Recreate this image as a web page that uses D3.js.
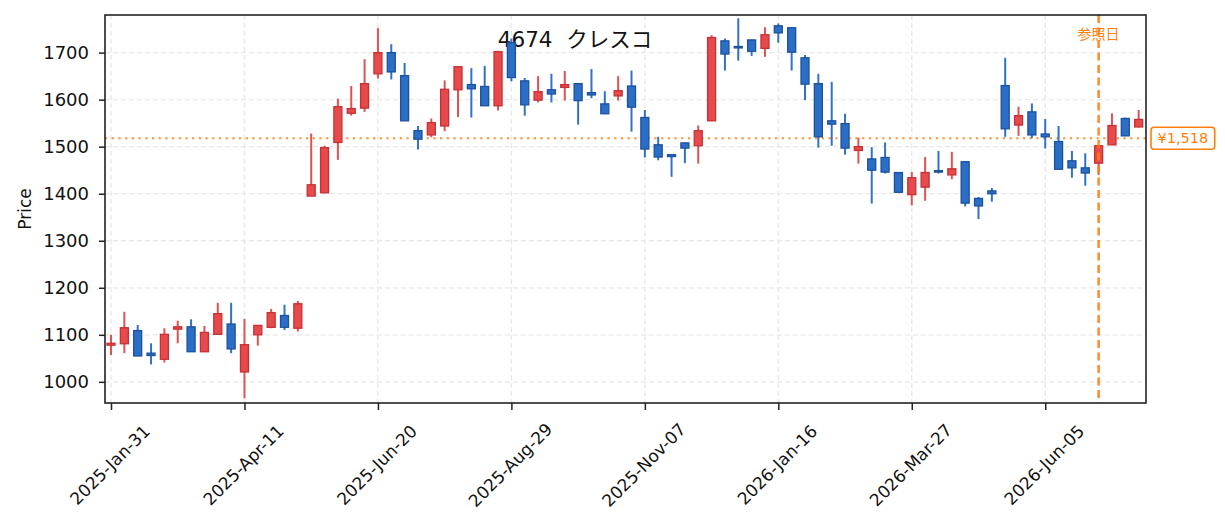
<!DOCTYPE html>
<html>
<head>
<meta charset="utf-8">
<script src="https://cdn.jsdelivr.net/npm/d3@7"></script>
<style>
body { margin: 0; background: #fff; }
svg { display: block; font-family: "DejaVu Sans", "Noto Sans CJK JP", sans-serif; }
</style>
</head>
<body>
<svg id="chart" width="1225" height="532"></svg>
<script>
"use strict";

// weekly candles, index 0 = 2025-Jan-31
var opens  = [1078,1081,1109,1061,1048,1112,1117,1064,1101,1123,1021,1100,1116,1141,1114,1395,1402,1509,1571,1582,
              1655,1700,1651,1534,1525,1544,1621,1632,1628,1587,1721,1640,1599,1621,1626,1634,1615,1591,1608,1629,
              1562,1504,1483,1508,1502,1555,1725,1713,1727,1709,1757,1753,1689,1634,1555,1549,1492,1474,1477,1445,
              1398,1414,1449,1440,1468,1390,1406,1630,1546,1574,1527,1511,1470,1455,1465,1504,1560,1542];
var highs  = [1100,1149,1121,1082,1114,1130,1133,1119,1168,1168,1134,1121,1155,1164,1172,1528,1502,1602,1629,1686,
              1752,1718,1678,1544,1560,1641,1671,1667,1672,1704,1730,1646,1650,1655,1661,1634,1665,1618,1650,1662,
              1578,1521,1484,1509,1545,1737,1730,1773,1728,1754,1762,1753,1695,1655,1638,1570,1519,1499,1509,1446,
              1446,1478,1491,1489,1469,1393,1412,1689,1585,1592,1559,1544,1491,1486,1503,1571,1562,1578];
var lows   = [1057,1061,1055,1037,1041,1082,1064,1064,1101,1061,965,1077,1114,1110,1107,1395,1401,1472,1566,1574,
              1645,1643,1555,1494,1520,1533,1563,1562,1587,1577,1639,1566,1594,1594,1598,1547,1603,1570,1598,1532,
              1477,1471,1436,1465,1464,1555,1662,1683,1693,1691,1721,1662,1599,1498,1502,1483,1464,1379,1443,1402,
              1375,1385,1443,1431,1373,1346,1383,1521,1523,1518,1496,1451,1434,1417,1440,1503,1523,1541];
var closes = [1082,1115,1055,1056,1101,1117,1064,1105,1145,1070,1079,1120,1147,1116,1166,1419,1498,1585,1581,1634,
              1700,1659,1555,1516,1551,1622,1670,1623,1587,1702,1647,1589,1617,1612,1632,1598,1610,1570,1619,1584,
              1495,1478,1479,1497,1534,1732,1697,1710,1703,1738,1742,1701,1633,1521,1548,1497,1500,1450,1446,1403,
              1434,1445,1446,1453,1380,1374,1400,1538,1566,1525,1521,1452,1455,1444,1502,1545,1523,1558];

var tickIndex  = [0, 10, 20, 30, 40, 50, 60, 70];
var tickLabels = ["2025-Jan-31","2025-Apr-11","2025-Jun-20","2025-Aug-29","2025-Nov-07","2026-Jan-16","2026-Mar-27","2026-Jun-05"];
var priceTicks = [1000, 1100, 1200, 1300, 1400, 1500, 1600, 1700];
var refIndex = 74;
var refPrice = 1518;
var title = "4674\u00a0\u00a0クレスコ";

var margin = { l: 105, r: 79, t: 15, b: 129 };
var W = 1225, H = 532;
var innerW = W - margin.l - margin.r, innerH = H - margin.t - margin.b;

var colors = {
  upFill: "#e64a4a", upLine: "#c63036", upWick: "#e05252",
  dnFill: "#2b6ec6", dnLine: "#1c519f", dnWick: "#2f72c8",
  ref: "#ff7f0e", grid: "#e8e8e8"
};

var svg = d3.select("#chart");
var g = svg.append("g").attr("transform", "translate(" + margin.l + "," + margin.t + ")");

var x = d3.scaleLinear().domain([-0.45, 77.55]).range([0, innerW]);
var y = d3.scaleLinear().domain([955, 1780]).range([innerH, 0]);

var candles = d3.range(opens.length).map(function(i) {
  return { i: i, o: opens[i], h: highs[i], l: lows[i], c: closes[i] };
});

// grid
g.append("g").selectAll("line").data(priceTicks).enter().append("line")
  .attr("x1", 0).attr("x2", innerW)
  .attr("y1", function(d) { return y(d); }).attr("y2", function(d) { return y(d); })
  .attr("stroke", colors.grid).attr("stroke-width", 1.3).attr("stroke-dasharray", "5,3");
g.append("g").selectAll("line").data(tickIndex).enter().append("line")
  .attr("y1", 0).attr("y2", innerH)
  .attr("x1", function(d) { return x(d); }).attr("x2", function(d) { return x(d); })
  .attr("stroke", colors.grid).attr("stroke-width", 1.3).attr("stroke-dasharray", "5,3");

// title sits under the candles
svg.append("text")
  .attr("x", 575).attr("y", 47)
  .attr("text-anchor", "middle")
  .attr("font-size", 21.5).attr("fill", "#111")
  .text(title);

// reference price line
g.append("line")
  .attr("x1", 0).attr("x2", innerW)
  .attr("y1", y(refPrice)).attr("y2", y(refPrice))
  .attr("stroke", colors.ref).attr("stroke-width", 2).attr("stroke-dasharray", "2.2,4.5")
  .attr("opacity", 0.85);

// candles
var bodyW = 8;
var cg = svg.append("g").attr("transform", "translate(" + margin.l + "," + margin.t + ")");
cg.selectAll("line.wick").data(candles).enter().append("line")
  .attr("class", "wick")
  .attr("x1", function(d) { return x(d.i); }).attr("x2", function(d) { return x(d.i); })
  .attr("y1", function(d) { return y(d.h); }).attr("y2", function(d) { return y(d.l); })
  .attr("stroke", function(d) { return d.c >= d.o ? colors.upWick : colors.dnWick; })
  .attr("stroke-width", 2);
cg.selectAll("rect.body").data(candles).enter().append("rect")
  .attr("class", "body")
  .attr("x", function(d) { return x(d.i) - bodyW / 2; })
  .attr("width", bodyW)
  .attr("y", function(d) { return y(Math.max(d.o, d.c)); })
  .attr("height", function(d) { return Math.max(1, Math.abs(y(d.o) - y(d.c))); })
  .attr("fill", function(d) { return d.c >= d.o ? colors.upFill : colors.dnFill; })
  .attr("stroke", function(d) { return d.c >= d.o ? colors.upLine : colors.dnLine; })
  .attr("stroke-width", 1.3);

// reference date line
cg.append("line")
  .attr("x1", x(refIndex)).attr("x2", x(refIndex))
  .attr("y1", 0).attr("y2", innerH)
  .attr("stroke", colors.ref).attr("stroke-width", 2.5).attr("stroke-dasharray", "8,4.5")
  .attr("opacity", 0.9);
cg.append("text")
  .attr("x", x(refIndex)).attr("y", 24)
  .attr("text-anchor", "middle")
  .attr("fill", colors.ref).attr("font-size", 14)
  .attr("font-family", "\"Noto Sans CJK JP\", sans-serif")
  .text("参照日");

// axes
var yAxis = cg.append("g").call(d3.axisLeft(y).tickValues(priceTicks).tickSize(6).tickPadding(10).tickFormat(d3.format("d")));
var xAxis = cg.append("g").attr("transform", "translate(0," + innerH + ")")
  .call(d3.axisBottom(x).tickValues(tickIndex).tickSize(7).tickFormat(function(d, k) { return tickLabels[k]; }));
[yAxis, xAxis].forEach(function(a) {
  a.select(".domain").remove();
  a.selectAll(".tick line").attr("stroke", "#222").attr("stroke-width", 1.5);
  a.selectAll("text").attr("fill", "#111").attr("font-family", "\"DejaVu Sans\", sans-serif");
});
yAxis.selectAll("text").attr("font-size", 18);
xAxis.selectAll("text")
  .attr("font-size", 17)
  .attr("text-anchor", "middle")
  .attr("dy", null).attr("y", null)
  .attr("dominant-baseline", "central")
  .attr("transform", "translate(-1.5,62) rotate(-45)");

cg.append("rect")
  .attr("width", innerW).attr("height", innerH)
  .attr("fill", "none").attr("stroke", "#222").attr("stroke-width", 1.6);

// price label box
var box = svg.append("g").attr("transform", "translate(" + (margin.l + innerW + 5) + "," + (margin.t + y(refPrice)) + ")");
var boxText = box.append("text")
  .attr("x", 6.5).attr("y", 0)
  .attr("dominant-baseline", "central")
  .attr("fill", colors.ref).attr("font-size", 14.5)
  .text("¥" + d3.format(",")(refPrice));
var bb = boxText.node().getBBox();
box.insert("rect", "text")
  .attr("x", 0).attr("y", -11)
  .attr("width", bb.width + 13).attr("height", 22)
  .attr("rx", 3)
  .attr("fill", "#fff").attr("stroke", colors.ref).attr("stroke-width", 1.6);

svg.append("text")
  .attr("transform", "translate(25," + (margin.t + innerH / 2) + ") rotate(-90)")
  .attr("text-anchor", "middle").attr("dominant-baseline", "central")
  .attr("font-size", 17).attr("fill", "#111")
  .text("Price");
</script>
</body>
</html>
